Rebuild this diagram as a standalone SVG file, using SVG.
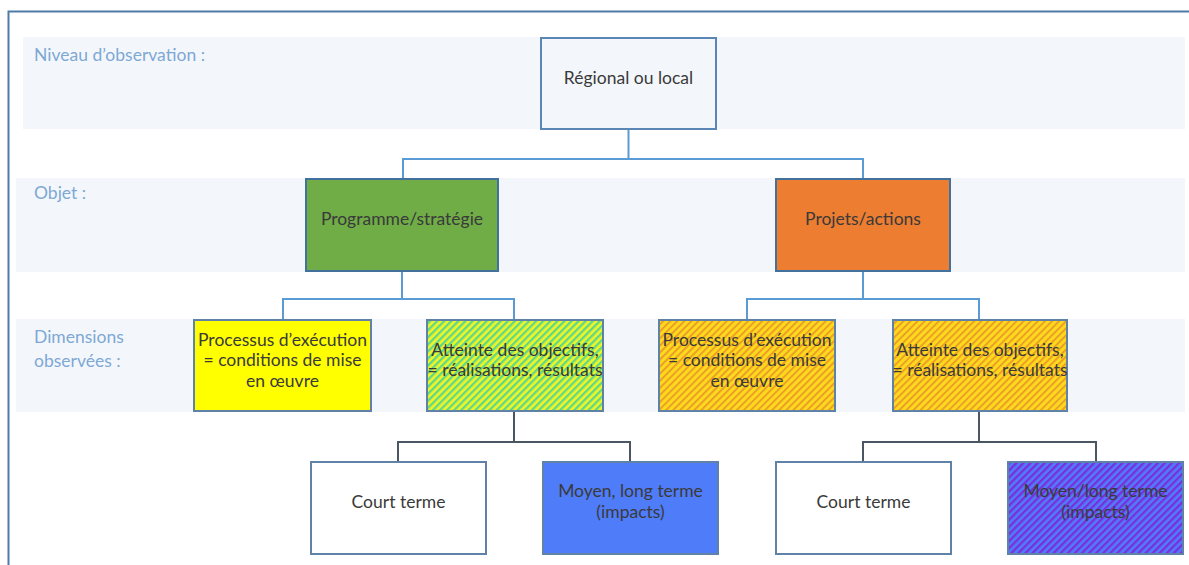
<svg xmlns="http://www.w3.org/2000/svg" width="1189" height="565" viewBox="0 0 1189 565">
<style>
.band{fill:#F3F7FC}
.lbl{font-family:Lato,"Liberation Sans",sans-serif;font-size:17.5px;fill:#7EA8D4}
.t{font-family:Lato,"Liberation Sans",sans-serif;font-size:17.5px;fill:#3A3A3A;text-anchor:middle}
.box{stroke:#5F82A6;stroke-width:2}
.c1{fill:none;stroke:#5B9BD5;stroke-width:2}
.c2{fill:none;stroke:#4A5763;stroke-width:2}
</style>
<defs>
<pattern id="pGreen" width="5" height="5" patternUnits="userSpaceOnUse" patternTransform="rotate(45)">
<rect width="5" height="5" fill="#F0F525"/><rect width="2.3" height="5" fill="#5FD88A"/>
</pattern>
<pattern id="pOrange" width="5" height="5" patternUnits="userSpaceOnUse" patternTransform="rotate(45)">
<rect width="5" height="5" fill="#FFD91C"/><rect width="1.8" height="5" fill="#E99A2A"/>
</pattern>
<pattern id="pPurple" width="5" height="5" patternUnits="userSpaceOnUse" patternTransform="rotate(45)">
<rect width="5" height="5" fill="#4F7CF8"/><rect width="2.3" height="5" fill="#7A2EDD"/>
</pattern>
</defs>
<rect width="1189" height="565" fill="#FFFFFF"/>
<path d="M8.5,565 V11.5 H1189" fill="none" stroke="#4F7BA8" stroke-width="2"/>
<g id="bands">
<rect class="band" x="23" y="37" width="1162" height="92"/>
<rect class="band" x="16" y="178" width="1169" height="94"/>
<rect class="band" x="16" y="319" width="1169" height="93"/>
</g>
<g id="labels">
<text class="lbl" x="34" y="61">Niveau d’observation :</text>
<text class="lbl" x="34" y="199">Objet :</text>
<text class="lbl" x="34" y="343">Dimensions</text>
<text class="lbl" x="34" y="367">observées :</text>
</g>
<g id="connectors">
<path class="c1" d="M628.5,129 V159 M403,159 H863 M403,158 V179 M863,158 V179"/>
<path class="c1" d="M402,271 V299 M283,299 H514 M283,298 V320 M514,298 V320"/>
<path class="c1" d="M863,271 V299 M747,299 H979 M747,298 V320 M979,298 V320"/>
<path class="c2" d="M514,411 V442 M398,442 H630 M398,441 V462 M630,441 V462"/>
<path class="c2" d="M979,411 V442 M863,442 H1096 M863,441 V462 M1096,441 V462"/>
</g>
<g id="n-regional">
<rect x="541" y="38" width="175" height="91" fill="#F3F7FC" stroke="#5A86B6" stroke-width="2"/>
<text class="t" x="628.5" y="84">Régional ou local</text>
</g>
<g id="n-programme">
<rect x="306" y="179" width="192" height="92" fill="#70AD47" stroke="#41719C" stroke-width="2"/>
<text class="t" x="402" y="225">Programme/stratégie</text>
</g>
<g id="n-projets">
<rect x="776" y="179" width="174" height="92" fill="#ED7D31" stroke="#41719C" stroke-width="2"/>
<text class="t" x="863" y="225">Projets/actions</text>
</g>
<g id="n-processus1">
<rect class="box" x="194" y="320" width="177" height="91" fill="#FFFF00"/>
<text class="t" x="282.5" y="346">Processus d’exécution</text>
<text class="t" x="282.5" y="366">= conditions de mise</text>
<text class="t" x="282.5" y="387">en œuvre</text>
</g>
<g id="n-atteinte1">
<rect class="box" x="427" y="320" width="176" height="91" fill="url(#pGreen)"/>
<text class="t" x="515" y="356">Atteinte des objectifs,</text>
<text class="t" x="515" y="376">= réalisations, résultats</text>
</g>
<g id="n-processus2">
<rect class="box" x="659" y="320" width="176" height="91" fill="url(#pOrange)"/>
<text class="t" x="747" y="346">Processus d’exécution</text>
<text class="t" x="747" y="366">= conditions de mise</text>
<text class="t" x="747" y="387">en œuvre</text>
</g>
<g id="n-atteinte2">
<rect class="box" x="893" y="320" width="174" height="91" fill="url(#pOrange)"/>
<text class="t" x="980" y="356">Atteinte des objectifs,</text>
<text class="t" x="980" y="376">= réalisations, résultats</text>
</g>
<g id="n-court1">
<rect class="box" x="311" y="462" width="175" height="92" fill="#FFFFFF"/>
<text class="t" x="398.5" y="508">Court terme</text>
</g>
<g id="n-moyen1">
<rect class="box" x="543" y="462" width="175" height="92" fill="#4F7CF8"/>
<text class="t" x="630.5" y="497" fill="#1E2A44">Moyen, long terme</text>
<text class="t" x="630.5" y="518">(impacts)</text>
</g>
<g id="n-court2">
<rect class="box" x="776" y="462" width="175" height="92" fill="#FFFFFF"/>
<text class="t" x="863.5" y="508">Court terme</text>
</g>
<g id="n-moyen2">
<rect class="box" x="1008" y="462" width="175" height="92" fill="url(#pPurple)"/>
<text class="t" x="1095.5" y="497">Moyen/long terme</text>
<text class="t" x="1095.5" y="518">(impacts)</text>
</g>
</svg>
